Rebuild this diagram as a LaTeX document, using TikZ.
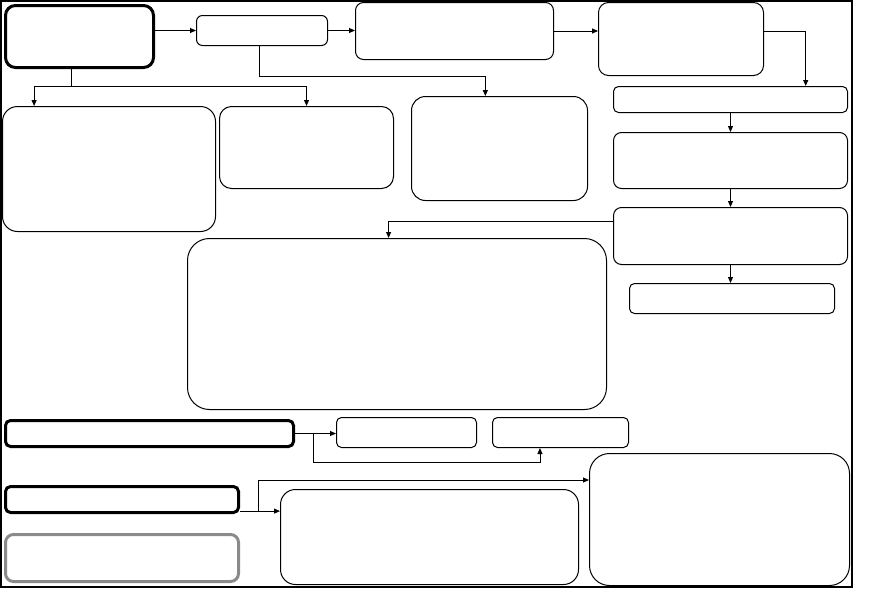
\documentclass[tikz,border=0pt]{standalone}
\usepackage{tikz}
\usetikzlibrary{arrows.meta,positioning,calc}
\definecolor{boxgray}{HTML}{8A8A8A}

\begin{document}
\begin{tikzpicture}[x=1pt,y=-1pt,
  box/.style={draw,rounded corners=#1,line width=1pt,inner sep=0pt,
              anchor=north west},
  box/.default=6pt,
  heavy/.style={line width=3pt},
  arr/.style={-{Triangle[length=6pt,width=5pt]},line width=0.9pt},
  link/.style={line width=0.9pt}
]
\useasboundingbox (0,0) rectangle (877,589);
\draw[line width=2pt] (1,1) rectangle (851.5,587);

% top row
\node[box=10pt,heavy,minimum width=148,minimum height=62] (A) at (4,4) {};
\node[box,minimum width=131,minimum height=30]    (B) at (196,15) {};
\node[box=8pt,minimum width=198,minimum height=57] (C) at (355,2) {};
\node[box=10pt,minimum width=165,minimum height=73] (D) at (598,2) {};

% second row
\node[box=15pt,minimum width=213,minimum height=125] (E) at (2,106) {};
\node[box=12pt,minimum width=174,minimum height=82]  (F) at (219,106) {};
\node[box=14pt,minimum width=176,minimum height=104] (G) at (411,96) {};

% right column
\node[box=5pt,minimum width=234,minimum height=26] (H) at (613,86) {};
\node[box=8pt,minimum width=234,minimum height=56] (I) at (613,132) {};
\node[box=8pt,minimum width=234,minimum height=57] (J) at (613,207) {};
\node[box=5pt,minimum width=205,minimum height=30] (K) at (629,283) {};

% centre
\node[box=22pt,minimum width=419,minimum height=171] (M) at (187,238) {};

% bottom part
\node[box=5pt,heavy,minimum width=288,minimum height=26] (L) at (4,419) {};
\node[box=5pt,minimum width=140,minimum height=30] (N) at (336,417) {};
\node[box=5pt,minimum width=136,minimum height=30] (O) at (492,417) {};
\node[box=5pt,heavy,minimum width=233,minimum height=26] (P) at (4,485) {};
\node[box=8pt,heavy,draw=boxgray,minimum width=233,minimum height=47] (Q) at (4,533) {};
\node[box=15pt,minimum width=298,minimum height=95]  (R) at (280,489) {};
\node[box=20pt,minimum width=260,minimum height=132] (S) at (589,453) {};

% connectors
\draw[arr] (A.east |- B.west) -- (B.west);
\draw[arr] (B.east) -- (B.east -| C.west);
\draw[arr] (C.east) -- (C.east -| D.west);
\draw[arr] (C.east -| D.east) -| ($(H.north west)!0.82!(H.north east)$);

\coordinate (jA) at (71,86);
\draw[link] (A.south -| jA) -- (jA);
\draw[arr] (jA) -| ($(E.north west)!0.15!(E.north east)$);
\draw[arr] (jA) -| (F.north);
\coordinate (jB) at (259,76);
\draw[link] (B.south -| jB) -- (jB);
\draw[arr] (jB) -| ($(G.north west)!0.42!(G.north east)$);

\draw[arr] (H.south) -- (I.north);
\draw[arr] (I.south) -- (J.north);
\draw[arr] ($(J.north west)!0.25!(J.south west)$) -| ($(M.north west)!0.48!(M.north east)$);
\draw[arr] (J.south) -- (J.south |- K.north);

\draw[arr] (L.east) -- (L.east -| N.west);
\coordinate (jL) at ($(L.east)+(18,0)$);
\draw[arr] (jL) -- ++(0,29) -| ($(O.south west)!0.35!(O.south east)$);

\coordinate (pP) at ($(P.north east)!0.9!(P.south east)$);
\draw[arr] (pP) -- (pP -| R.west);
\coordinate (jP) at ($(pP)+(18,0)$);
\draw[arr] (jP) |- ($(S.north west)+(0,27)$);
\end{tikzpicture}
\end{document}
